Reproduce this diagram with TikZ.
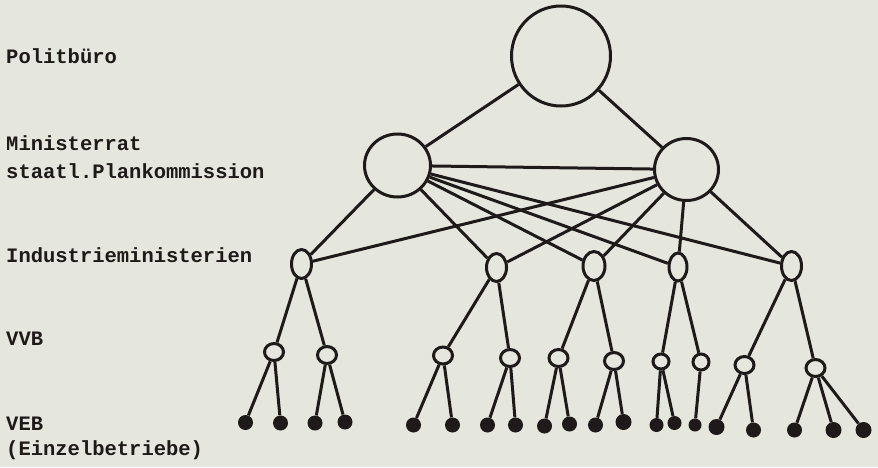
\documentclass[tikz,border=0pt]{standalone}
\usepackage{fontspec}
\setmonofont{Liberation Mono}
\usetikzlibrary{shapes.geometric}
\definecolor{paper}{RGB}{229,230,221}
\definecolor{ink}{RGB}{30,26,26}
\begin{document}
\begin{tikzpicture}[x=1pt,y=-1pt,
  hollow/.style={ellipse, draw=ink, line width=3pt, fill=paper, inner sep=0pt},
  vvb/.style={hollow, minimum width=19pt, minimum height=17pt},
  dot/.style={circle, fill=ink, inner sep=0pt, minimum size=15pt},
  link/.style={draw=ink, line width=3pt},
  lbl/.style={anchor=base west, font=\ttfamily\bfseries\fontsize{20.5}{24}\selectfont, text=ink, inner sep=0pt}]
\fill[paper] (0,0) rectangle (878,467);
\useasboundingbox (0,0) rectangle (878,467);
% labels
\node[lbl] (lp) at (6,63) {Politbüro};
\node[lbl] (lm) at (6,150) {Ministerrat};
\node[lbl] (ls) at (6,178) {staatl.Plankommission};
\node[lbl] (li) at (6,262) {Industrieministerien};
\node[lbl] (lv) at (6,345) {VVB};
\node[lbl] (le) at (6,430) {VEB};
\node[lbl] (lz) at (6,455) {(Einzelbetriebe)};
% top
\node[hollow, minimum width=99pt, minimum height=100pt] (P) at (561,56) {};
\node[hollow, minimum width=66pt, minimum height=63pt] (ML) at (397.5,165.5) {};
\node[hollow, minimum width=64pt, minimum height=62pt] (MR) at (686.5,169.5) {};
% industry ministries
\node[hollow, minimum width=20pt, minimum height=29pt] (I1) at (301.5,264) {};
\node[hollow, minimum width=20pt, minimum height=28pt] (I2) at (496.5,267.5) {};
\node[hollow, minimum width=22pt, minimum height=29pt] (I3) at (594,266) {};
\node[hollow, minimum width=18pt, minimum height=28pt] (I4) at (678,267) {};
\node[hollow, minimum width=20pt, minimum height=29pt] (I5) at (791.5,266) {};
% VVB
\node[vvb] (V1) at (274,352) {};
\node[vvb] (V2) at (327,355) {};
\node[vvb] (V3) at (443,355.5) {};
\node[vvb] (V4) at (510,358) {};
\node[vvb] (V5) at (558.5,358) {};
\node[vvb] (V6) at (614,361) {};
\node[vvb, minimum width=16pt, minimum height=15pt] (V7) at (661,361.5) {};
\node[vvb, minimum width=16pt, minimum height=16pt] (V8) at (701,362) {};
\node[vvb] (V9) at (744.5,365) {};
\node[vvb] (V10) at (815.5,368) {};
% VEB
\node[dot] (d1) at (245.5,422.5) {};
\node[dot] (d2) at (280.5,423) {};
\node[dot] (d3) at (315,423) {};
\node[dot] (d4) at (345,422) {};
\node[dot] (d5) at (413.5,425) {};
\node[dot] (d6) at (452.5,425) {};
\node[dot] (d7) at (487.5,425) {};
\node[dot] (d8) at (515.5,425) {};
\node[dot] (d9) at (544.5,426) {};
\node[dot] (d10) at (569.5,424) {};
\node[dot] (d11) at (595.5,425) {};
\node[dot, minimum size=16pt] (d12) at (623.5,422) {};
\node[dot, minimum size=14pt] (d13) at (656.5,425) {};
\node[dot, minimum size=14pt] (d14) at (674.5,423) {};
\node[dot, minimum size=13pt] (d15) at (695,425) {};
\node[dot, minimum size=16pt] (d16) at (716.5,427) {};
\node[dot] (d17) at (753.5,430) {};
\node[dot] (d18) at (794.5,430) {};
\node[dot, minimum size=16pt] (d19) at (833.5,430) {};
\node[dot, minimum size=16pt] (d20) at (863.5,430) {};
% connectors
\draw[link] (P) -- (ML);
\draw[link] (P) -- (MR);
\draw[link] (ML) -- (MR);
\foreach \i in {1,...,5} {
  \draw[link] (ML) -- (I\i);
  \draw[link] (MR) -- (I\i);
}
\draw[link] (I1) -- (V1); \draw[link] (I1) -- (V2);
\draw[link] (I2) -- (V3); \draw[link] (I2) -- (V4);
\draw[link] (I3) -- (V5); \draw[link] (I3) -- (V6);
\draw[link] (I4) -- (V7); \draw[link] (I4) -- (V8);
\draw[link] (I5) -- (V9); \draw[link] (I5) -- (V10);
\draw[link] (V1) -- (d1); \draw[link] (V1) -- (d2);
\draw[link] (V2) -- (d3); \draw[link] (V2) -- (d4);
\draw[link] (V3) -- (d5); \draw[link] (V3) -- (d6);
\draw[link] (V4) -- (d7); \draw[link] (V4) -- (d8);
\draw[link] (V5) -- (d9); \draw[link] (V5) -- (d10);
\draw[link] (V6) -- (d11); \draw[link] (V6) -- (d12);
\draw[link] (V7) -- (d13); \draw[link] (V7) -- (d14);
\draw[link] (V8) -- (d15);
\draw[link] (V9) -- (d16); \draw[link] (V9) -- (d17);
\draw[link] (V10) -- (d18); \draw[link] (V10) -- (d19); \draw[link] (V10) -- (d20);
\end{tikzpicture}
\end{document}
